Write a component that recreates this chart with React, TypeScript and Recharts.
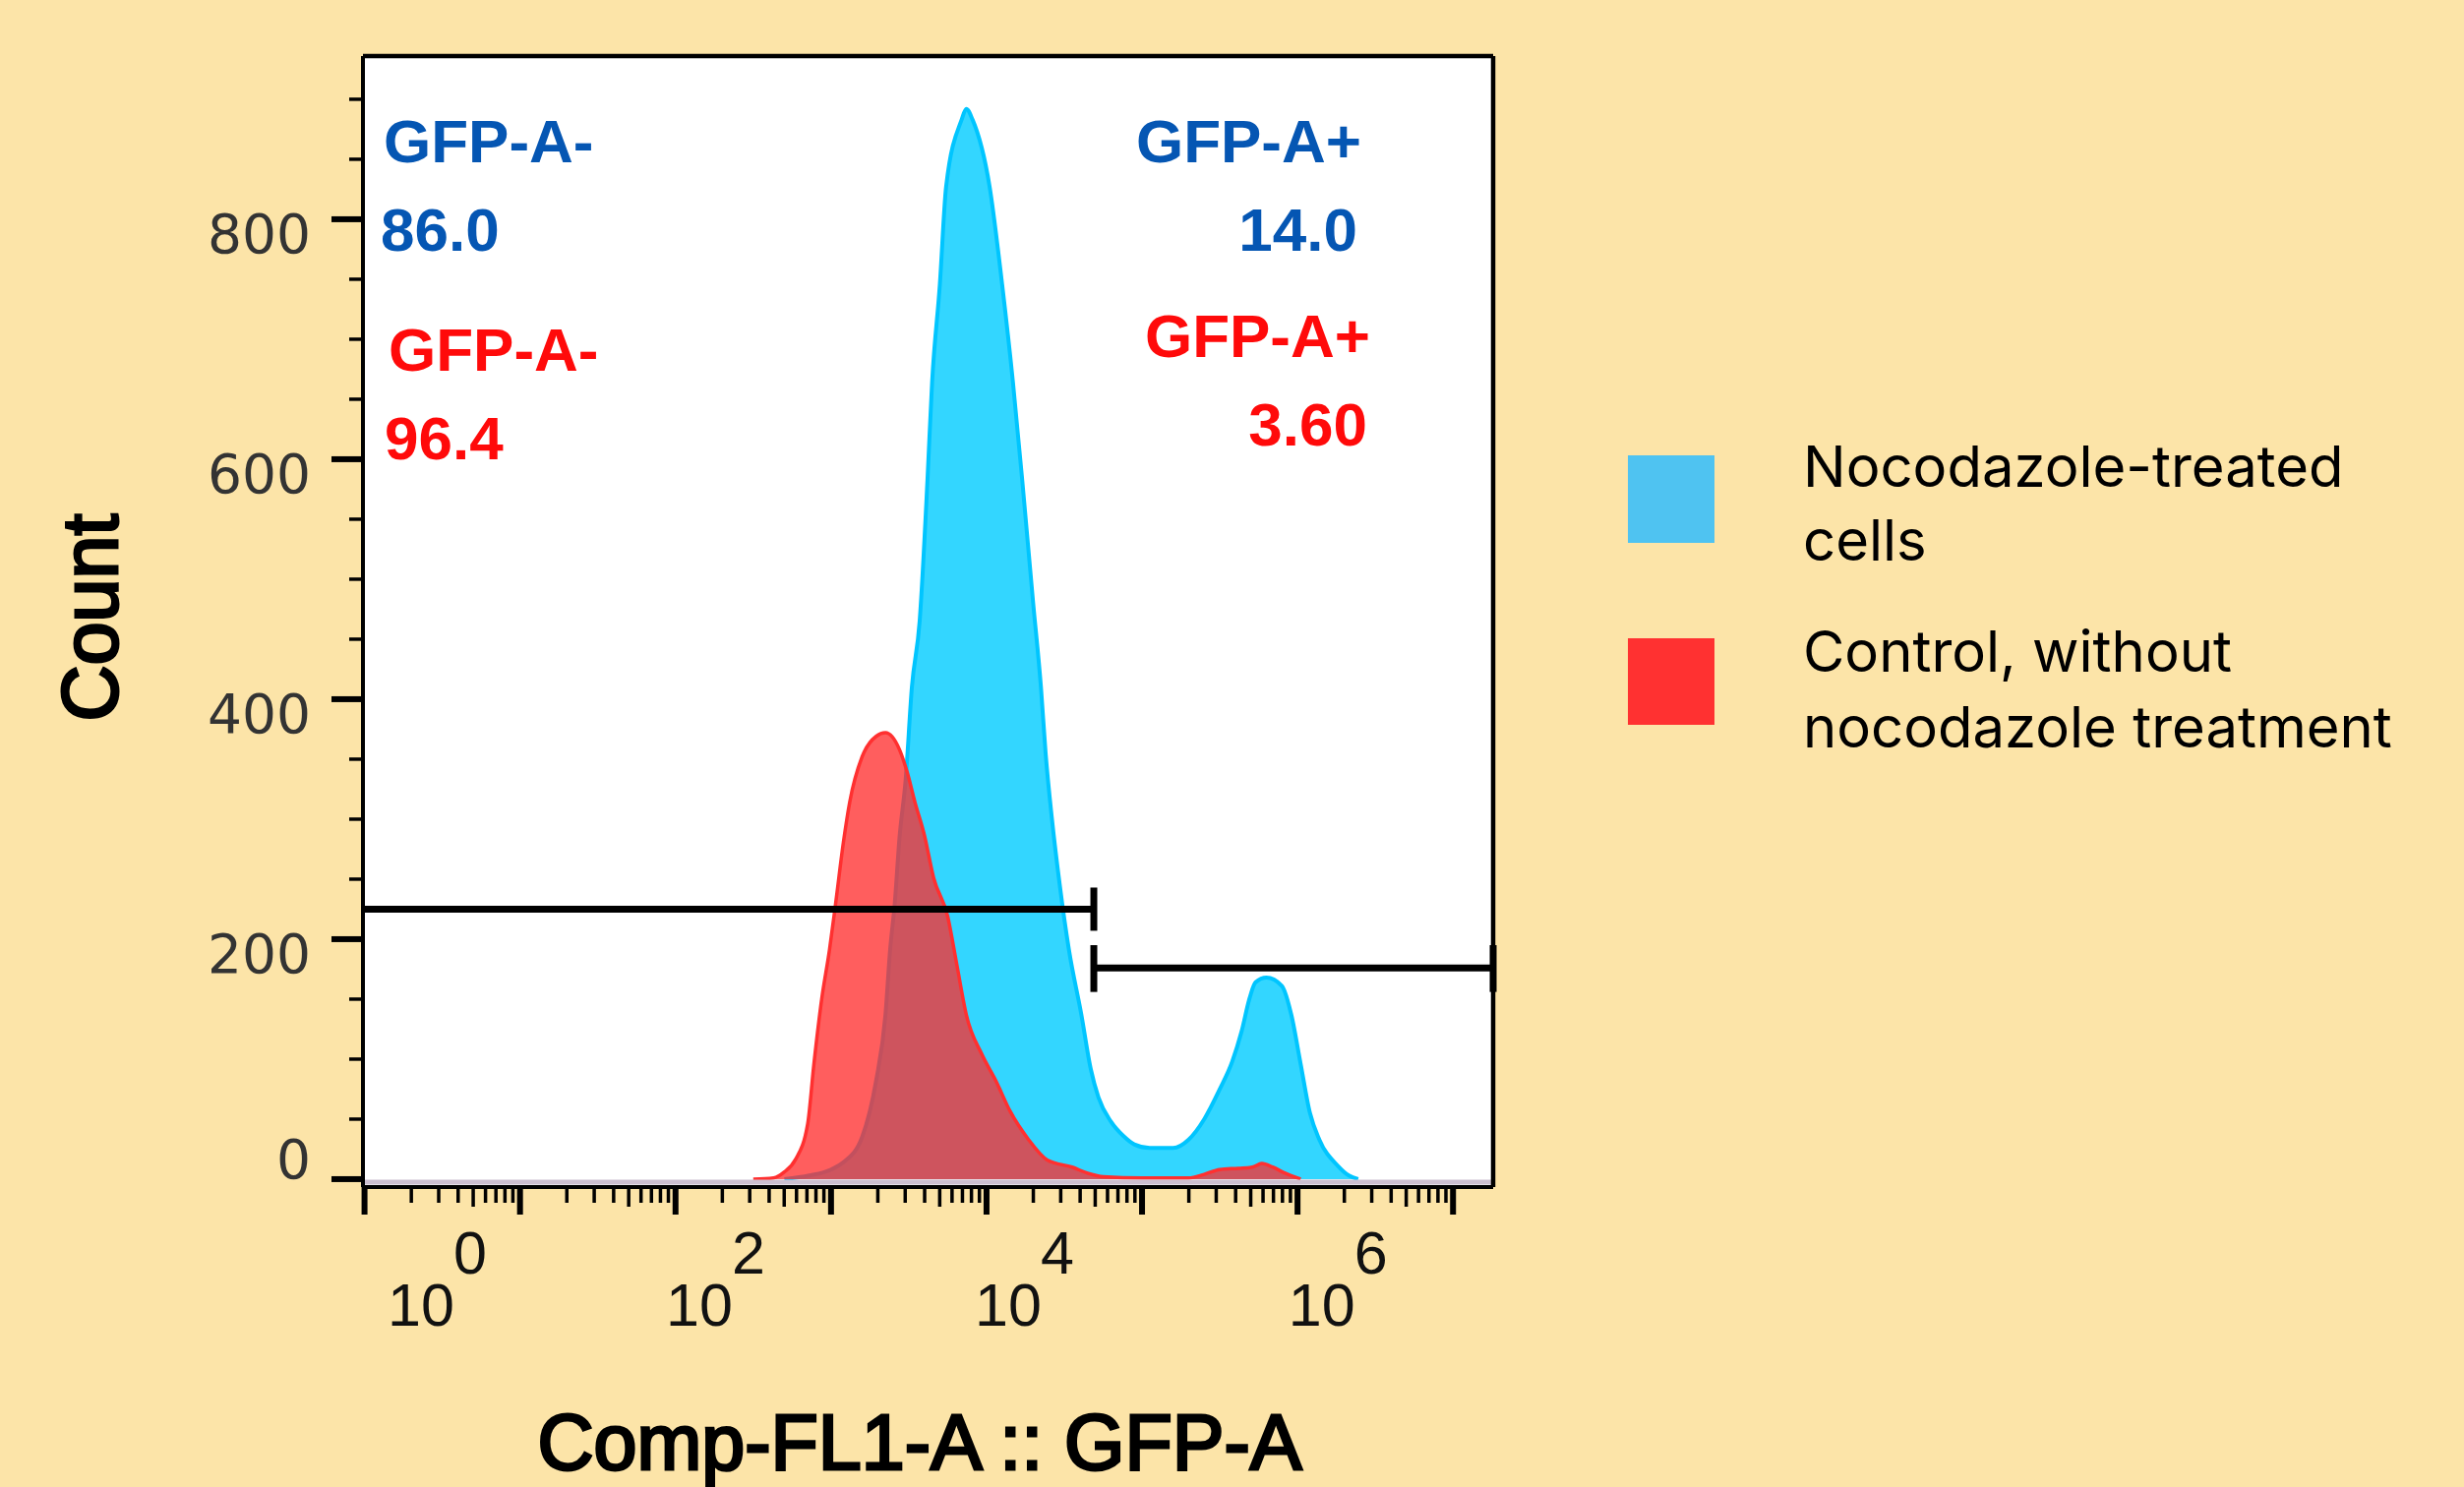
import React from "react";
import { ComposedChart, Area, XAxis, YAxis, CartesianGrid, ReferenceLine } from "recharts";

// x = GFP-A intensity in decades (biex display), y = event count
const CONTROL_X = [2.5, 2.63, 2.7, 2.77, 2.85, 2.89, 2.94, 2.99, 3.03, 3.08, 3.12, 3.2, 3.29, 3.35, 3.44, 3.49, 3.54, 3.6, 3.66, 3.75, 3.81, 3.87, 3.97, 4.06, 4.15, 4.27, 4.39, 4.55, 4.65, 4.75, 5.0, 5.3, 5.4, 5.5, 5.62, 5.71, 5.77, 5.84, 5.92, 6.02];
const CONTROL_Y = [0, 1, 6, 16, 46, 96, 150, 191, 230, 281, 314, 352, 369, 372, 358, 339, 314, 287, 251, 219, 178, 137, 104, 82, 57, 33, 16, 10, 5, 2, 1, 1, 4, 8, 9, 10, 13, 10, 5, 0];

const NOCO_X = [2.7, 2.86, 3.0, 3.08, 3.2, 3.29, 3.35, 3.38, 3.41, 3.44, 3.48, 3.52, 3.57, 3.62, 3.65, 3.7, 3.74, 3.84, 3.87, 3.91, 4.02, 4.1, 4.17, 4.23, 4.3, 4.35, 4.38, 4.42, 4.47, 4.53, 4.61, 4.67, 4.72, 4.8, 4.88, 4.95, 5.05, 5.2, 5.3, 5.4, 5.5, 5.58, 5.64, 5.69, 5.73, 5.8, 5.9, 5.96, 6.02, 6.08, 6.14, 6.26, 6.33, 6.39];
const NOCO_Y = [0, 3, 8, 14, 35, 82, 137, 191, 230, 284, 333, 410, 465, 582, 664, 746, 827, 883, 892, 883, 827, 746, 664, 582, 480, 410, 355, 301, 246, 191, 137, 92, 68, 48, 36, 29, 26, 26, 33, 50, 75, 98, 123, 150, 164, 168, 161, 137, 96, 55, 33, 11, 3, 0];

const X_DOMAIN: [number, number] = [-0.01, 7.258];
const Y_DOMAIN: [number, number] = [-6.6, 936];

const DECADES = [0, 1, 2, 3, 4, 5, 6, 7];
const MINOR_MULT = [2, 3, 4, 5, 6, 7, 8, 9];
const X_LABEL_POS = [0.363, 2.153, 4.139, 6.156];
const X_LABEL_EXP = ["0", "2", "4", "6"];

const Y_TICKS = [0, 50, 100, 150, 200, 250, 300, 350, 400, 450, 500, 550, 600, 650, 700, 750, 800, 850, 900];
const Y_LABELED = [0, 200, 400, 600, 800];

// gates: GFP-A- (end bar on the right) and GFP-A+ (end bars on both sides)
const GATE_NEG = { x1: -0.01, x2: 4.69, y: 225, lo: 207, hi: 243, bars: [4.69] };
const GATE_POS = { x1: 4.69, x2: 7.258, y: 176, lo: 156, hi: 195, bars: [4.69, 7.258] };

const BLUE_TXT = "#0556B3";
const RED_TXT = "#FF0A0A";

const minorTicks = DECADES.slice(0, 7).flatMap(d => MINOR_MULT.map(m => d + Math.log10(m)));
const X_TICKS = [...DECADES, ...minorTicks, ...X_LABEL_POS];

const controlData = CONTROL_X.map((x, i) => ({ x, y: CONTROL_Y[i] }));
const nocoData = NOCO_X.map((x, i) => ({ x, y: NOCO_Y[i] }));

function XTick(props: any) {
  const { x, y, payload } = props;
  const v = payload.value;
  const li = X_LABEL_POS.indexOf(v);
  const font = { fontFamily: "'Liberation Sans', Arial, sans-serif", fontSize: 61, fill: "#111" };
  if (li >= 0) {
    return (
      <g>
        <text x={x} y={y + 141} textAnchor="middle" {...font}>10</text>
        <text x={x + 50} y={y + 88} textAnchor="middle" {...font}>{X_LABEL_EXP[li]}</text>
      </g>
    );
  }
  const frac = v - Math.floor(v + 1e-9);
  const major = Math.abs(frac) < 1e-6;
  const mid = Math.abs(frac - Math.log10(5)) < 1e-6;
  const len = major ? 28 : mid ? 20 : 16;
  return <line x1={x} x2={x} y1={y} y2={y + len} stroke="#000" strokeWidth={major ? 6 : 3.5} />;
}

function YTick(props: any) {
  const { x, y, payload } = props;
  const v = payload.value;
  const major = Y_LABELED.includes(v);
  return (
    <g>
      <line x1={x - (major ? 32 : 14)} x2={x} y1={y} y2={y} stroke="#000" strokeWidth={major ? 6 : 3.5} />
      {major && (
        <text
          x={x - 53}
          y={y + (v === 0 ? -1 : 34)}
          textAnchor="end"
          fontFamily="'DejaVu Sans', sans-serif"
          fontSize={55}
          fill="#333"
        >
          {v}
        </text>
      )}
    </g>
  );
}

function gateLines(g: typeof GATE_NEG, key: string) {
  return [
    <ReferenceLine key={key} segment={[{ x: g.x1, y: g.y }, { x: g.x2, y: g.y }]} stroke="#000" strokeWidth={7} ifOverflow="visible" />,
    ...g.bars.map(bx => (
      <ReferenceLine key={`${key}-${bx}`} segment={[{ x: bx, y: g.lo }, { x: bx, y: g.hi }]} stroke="#000" strokeWidth={7} ifOverflow="visible" />
    )),
  ];
}

export default function App() {
  const bold = { fontFamily: "'Liberation Sans', Arial, sans-serif", fontWeight: 700, fontSize: 62 };
  const axisTitle = { fontFamily: "'Liberation Sans', Arial, sans-serif", fontSize: 79, fill: "#000", stroke: "#000", strokeWidth: 3 };
  const legendFont = { fontFamily: "Inter, 'Open Sans', sans-serif", fontSize: 58, fill: "#000" };

  return (
    <div style={{ position: "absolute", left: 0, top: 0, width: 2505, height: 1512, background: "#FCE4A8", overflow: "hidden" }}>
      <ComposedChart width={2505} height={1512} margin={{ top: 57, right: 987, bottom: 275, left: 309 }}>
        <CartesianGrid horizontal={false} vertical={false} fill="#fff" />
        <XAxis
          dataKey="x"
          type="number"
          domain={X_DOMAIN}
          allowDataOverflow
          ticks={X_TICKS}
          interval={0}
          tickSize={0}
          tickMargin={0}
          tickLine={false}
          height={30}
          axisLine={{ stroke: "#000", strokeWidth: 4 }}
          tick={(p: any) => <XTick {...p} />}
        />
        <YAxis
          type="number"
          domain={Y_DOMAIN}
          allowDataOverflow
          ticks={Y_TICKS}
          interval={0}
          tickSize={0}
          tickMargin={0}
          tickLine={false}
          width={60}
          axisLine={{ stroke: "#000", strokeWidth: 4 }}
          tick={(p: any) => <YTick {...p} />}
        />
        <ReferenceLine y={-2.5} stroke="#CCBFD0" strokeWidth={5} ifOverflow="visible" />
        <Area
          data={nocoData}
          type="monotone"
          dataKey="y"
          stroke="#00C5FF"
          strokeWidth={4}
          fill="#33D6FF"
          fillOpacity={1}
          isAnimationActive={false}
          dot={false}
          activeDot={false}
        />
        <Area
          data={controlData}
          type="monotone"
          dataKey="y"
          stroke="#FF3030"
          strokeWidth={3.5}
          fill="#FF2B2B"
          fillOpacity={0.76}
          isAnimationActive={false}
          dot={false}
          activeDot={false}
        />
        {gateLines(GATE_NEG, "neg")}
        {gateLines(GATE_POS, "pos")}
        <ReferenceLine y={Y_DOMAIN[1]} stroke="#000" strokeWidth={4.5} ifOverflow="visible" />
        <ReferenceLine x={X_DOMAIN[1]} stroke="#000" strokeWidth={4.5} ifOverflow="visible" />
      </ComposedChart>

      <svg width={2505} height={1512} style={{ position: "absolute", left: 0, top: 0, pointerEvents: "none" }}>
        {/* gate statistics */}
        <text x={390} y={165} fill={BLUE_TXT} {...bold}>GFP-A-</text>
        <text x={387} y={255} fill={BLUE_TXT} {...bold}>86.0</text>
        <text x={1384} y={165} fill={BLUE_TXT} textAnchor="end" {...bold}>GFP-A+</text>
        <text x={1380} y={255} fill={BLUE_TXT} textAnchor="end" {...bold}>14.0</text>
        <text x={395} y={377} fill={RED_TXT} {...bold}>GFP-A-</text>
        <text x={391} y={467} fill={RED_TXT} {...bold}>96.4</text>
        <text x={1393} y={363} fill={RED_TXT} textAnchor="end" {...bold}>GFP-A+</text>
        <text x={1390} y={453} fill={RED_TXT} textAnchor="end" {...bold}>3.60</text>

        {/* axis titles */}
        <text x={119} y={628} textAnchor="middle" transform="rotate(-90 119 628)" {...axisTitle}>Count</text>
        <text x={935} y={1494} textAnchor="middle" {...axisTitle}>Comp-FL1-A :: GFP-A</text>

        {/* legend */}
        <rect x={1655} y={463} width={88} height={89} fill="#4FC3F1" />
        <rect x={1655} y={649} width={88} height={88} fill="#FF3131" />
        <text x={1833} y={495} {...legendFont}>Nocodazole-treated</text>
        <text x={1833} y={570} {...legendFont}>cells</text>
        <text x={1833} y={683} {...legendFont}>Control, without</text>
        <text x={1833} y={760} {...legendFont}>nocodazole treatment</text>
      </svg>
    </div>
  );
}
